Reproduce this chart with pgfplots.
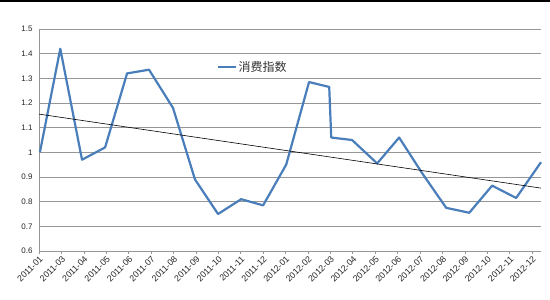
\documentclass[border=0pt]{standalone}
\usepackage{pgfplots}
\pgfplotsset{compat=1.18}
\usepackage{fontspec}
\setmainfont{Liberation Sans}
\newfontfamily\cjk{Noto Sans CJK SC}
\definecolor{lineblue}{RGB}{74,126,187}
\definecolor{gridgray}{RGB}{150,150,150}
\begin{document}
\begin{tikzpicture}[x=1pt,y=1pt]
\useasboundingbox (-39,-49) rectangle (511,251);
\fill[white] (-39,-49) rectangle (511,251);
\draw[black,line width=1.5pt] (-39,250) -- (511,250);
\begin{axis}[
  at={(0,0)}, anchor=south west,
  scale only axis, width=502pt, height=222pt,
  xmin=0, xmax=22.4, ymin=0.6, ymax=1.5,
  axis lines*=left,
  x axis line style={draw=none},
  y axis line style={gridgray, line width=0.8pt},
  xtick={0,...,22},
  xticklabels={2011-01,2011-03,2011-04,2011-05,2011-06,2011-07,2011-08,2011-09,2011-10,2011-11,2011-12,2012-01,2012-02,2012-03,2012-04,2012-05,2012-06,2012-07,2012-08,2012-09,2012-10,2012-11,2012-12},
  x tick label style={rotate=45, anchor=north east, font=\fontsize{8.8}{10}\selectfont, inner sep=1pt, color=black!85},
  ytick={0.6,0.7,...,1.5},
  yticklabels={0.6,0.7,0.8,0.9,1,1.1,1.2,1.3,1.4,1.5},
  y tick label style={font=\fontsize{8}{9}\selectfont, color=black!85},
  /pgf/number format/assume math mode=true,
  tick align=outside,
  major tick length=3pt,
  xtick style={gridgray, line width=0.6pt},
  ytick style={draw=none},
  ymajorgrids,
  grid style={gridgray, line width=0.8pt},
  legend style={at={(axis cs:7.95,1.346)}, anchor=west, draw=none, fill=none, font=\fontsize{12}{14}\cjk, text=black!80, inner sep=0pt},
  legend cell align=left,
  clip=false,
]
\addplot[lineblue, line width=2.2pt, line join=round] coordinates {
(0.04,1.00) (0.95,1.42) (1.92,0.97) (2.95,1.02) (3.93,1.32) (4.91,1.335)
(5.98,1.18) (6.96,0.89) (7.99,0.75) (9.02,0.81) (10.0,0.785) (11.03,0.95)
(12.05,1.285) (12.95,1.265) (13.04,1.06) (13.97,1.05) (15.09,0.955) (16.07,1.06)
(17.1,0.915) (18.17,0.775) (19.2,0.755) (20.22,0.865) (21.29,0.815) (22.4,0.96)
};
\addlegendentry{消费指数}
\addplot[black, line width=0.6pt, forget plot] coordinates {(0,1.155) (22.4,0.855)};
\end{axis}
\end{tikzpicture}
\end{document}
